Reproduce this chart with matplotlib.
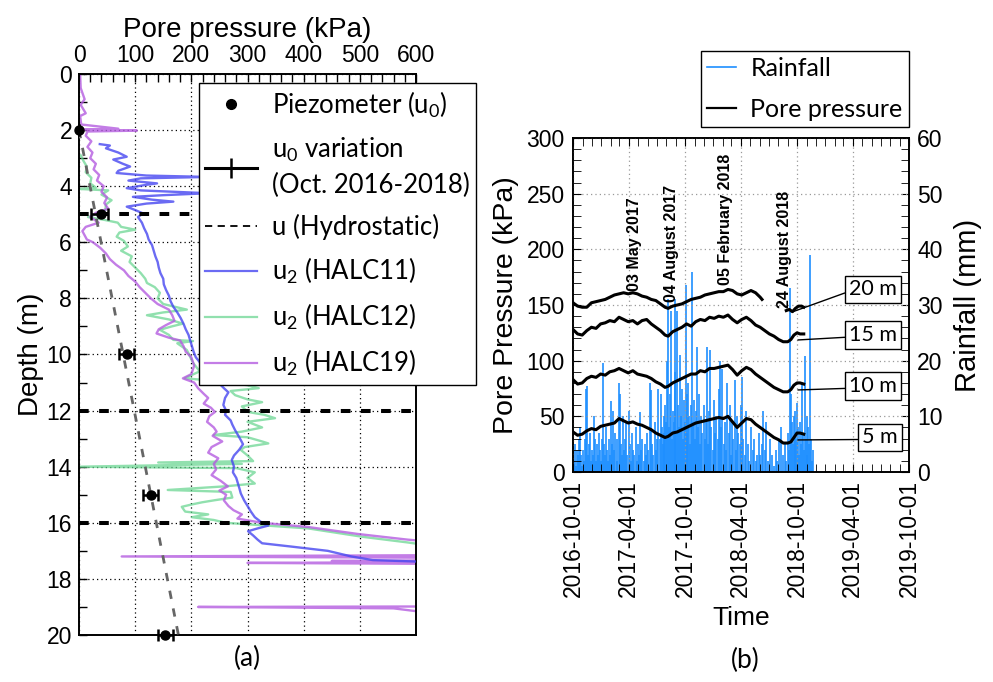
"""Pore pressure profiles (a) and monitored pore pressure vs rainfall (b)."""

import matplotlib

matplotlib.use("Agg")
import matplotlib.pyplot as plt
import matplotlib.dates as mdates
import numpy as np
from matplotlib.lines import Line2D
from matplotlib.ticker import MultipleLocator

# ---------------- (a) CPTu / piezometer profiles ----------------
# u2 readings in kPa against depth in m; 700 means off the 600 kPa scale
HALC11_DEPTH = [2.5, 2.55, 2.65, 2.8, 2.95, 3.05, 3.2, 3.3, 3.45, 3.53, 3.62, 3.67, 3.72, 3.8, 3.9,
                3.95, 4.07, 4.15, 4.25, 4.32, 4.38, 4.48, 4.55, 4.62, 4.73, 4.85, 4.97, 5.1, 5.3, 5.5,
                5.7, 5.9, 6.1, 6.3, 6.5, 6.7, 6.9, 7.1, 7.3, 7.5, 7.7, 7.9, 8.1, 8.3, 8.5,
                8.7, 8.9, 9.1, 9.3, 9.5, 9.7, 9.9, 10.1, 10.4, 10.7, 11.0, 11.2, 11.35, 11.55, 11.8,
                12.0, 12.15, 12.35, 12.5, 12.7, 12.87, 13.05, 13.2, 13.4, 13.6, 13.76, 14.0, 14.2, 14.4, 14.6,
                14.8, 14.95, 15.2, 15.43, 15.6, 15.8, 16.0, 16.1, 16.2, 16.3, 16.45, 16.6, 16.73, 16.85, 17.0,
                17.2, 17.33, 17.38, 17.45, 20.0]
HALC11_U2 = [37, 55, 48, 70, 85, 61, 78, 91, 70, 67, 120, 230, 110, 88, 139,
             120, 85, 110, 230, 150, 96, 130, 168, 120, 85, 100, 114, 105, 112, 116,
             121, 124, 130, 133, 136, 140, 142, 145, 150, 151, 155, 160, 163, 168, 175,
             181, 186, 190, 195, 198, 201, 204, 208, 220, 240, 248, 258, 266, 260, 257,
             262, 260, 270, 273, 278, 283, 288, 292, 285, 276, 272, 276, 274, 280, 283,
             286, 288, 294, 301, 306, 313, 326, 337, 318, 301, 310, 318, 326, 379, 443,
             485, 523, 600, 700, 700]

HALC12_DEPTH = [2.9, 3.1, 3.3, 3.5, 3.7, 3.9, 4.05, 4.1, 4.15, 4.3, 4.5, 4.65, 4.85, 5.0, 5.1,
                5.2, 5.3, 5.45, 5.55, 5.65, 5.8, 5.95, 6.15, 6.3, 6.5, 6.7, 6.9, 7.1, 7.3, 7.45,
                7.6, 7.8, 8.0, 8.2, 8.4, 8.5, 8.6, 8.75, 8.9, 9.0, 9.12, 9.3, 9.48, 9.52, 9.6,
                9.84, 10.0, 10.3, 10.6, 10.85, 10.95, 11.1, 11.2, 11.3, 11.45, 11.6, 11.7, 11.85, 12.05, 12.15,
                12.27, 12.4, 12.6, 12.75, 12.87, 12.95, 13.1, 13.17, 13.3, 13.4, 13.6, 13.8, 13.85, 13.9, 14.0,
                14.05, 14.2, 14.4, 14.6, 14.7, 14.83, 14.9, 15.1, 15.2, 15.27, 15.35, 15.43, 15.6, 15.7, 15.8,
                15.9, 16.0, 16.2, 16.5, 16.7, 16.8, 16.85, 20.0]
HALC12_U2 = [3, 8, 14, 12, 22, 20, 30, 3, 52, 40, 58, 48, 47, 30, 16,
             45, 69, 75, 100, 72, 67, 80, 87, 75, 94, 90, 100, 110, 118, 121,
             135, 144, 140, 150, 192, 150, 121, 160, 185, 165, 144, 160, 168, 203, 175,
             192, 196, 203, 215, 188, 250, 301, 320, 270, 278, 300, 326, 290, 301, 330,
             349, 300, 326, 290, 240, 300, 326, 337, 295, 288, 300, 310, 141, 290, 0,
             280, 313, 300, 313, 260, 158, 270, 273, 240, 219, 200, 183, 189, 230, 201,
             240, 261, 408, 505, 585, 620, 700, 700]

HALC19_DEPTH = [0.0, 0.5, 0.9, 1.1, 1.4, 1.5, 1.8, 1.95, 1.98, 2.02, 2.05, 2.2, 2.4, 2.6, 2.8,
                3.0, 3.2, 3.4, 3.6, 3.8, 4.0, 4.2, 4.4, 4.6, 4.8, 4.95, 5.1, 5.3, 5.45, 5.6,
                5.75, 5.9, 6.0, 6.2, 6.4, 6.6, 6.8, 7.0, 7.2, 7.4, 7.6, 7.8, 8.0, 8.2, 8.4,
                8.6, 8.8, 8.95, 9.1, 9.25, 9.4, 9.5, 9.7, 9.9, 10.1, 10.4, 10.7, 10.85, 11.0, 11.2,
                11.4, 11.55, 11.75, 11.9, 12.05, 12.2, 12.4, 12.6, 12.75, 12.9, 13.1, 13.3, 13.5, 13.7, 13.9,
                14.1, 14.3, 14.5, 14.7, 14.85, 15.0, 15.2, 15.4, 15.55, 15.7, 15.85, 16.0, 16.15, 16.4, 16.6,
                16.8, 17.15, 17.2, 17.25, 17.33, 17.36, 17.4, 17.43, 17.47, 18.98, 19.0, 19.05, 19.15, 19.25, 20.0]
HALC19_U2 = [2, 3, 10, 3, 12, 2, 4, 70, 5, 103, 15, 12, 22, 15, 24,
             20, 30, 26, 36, 32, 44, 40, 50, 45, 52, 30, 20, 35, 12, 6,
             10, 14, 25, 38, 48, 55, 66, 80, 88, 100, 108, 118, 128, 140, 160,
             166, 170, 155, 142, 138, 160, 180, 186, 190, 200, 205, 200, 185, 205, 212,
             222, 230, 222, 235, 242, 232, 228, 240, 245, 238, 255, 236, 230, 248, 240,
             244, 236, 252, 265, 250, 262, 258, 266, 275, 290, 282, 326, 408, 497, 585,
             700, 700, 76, 700, 700, 450, 700, 300, 700, 700, 212, 560, 600, 700, 700]

PIEZO_DEPTH = [2, 5, 10, 15, 20]
PIEZO_U0 = [0, 40, 85, 129, 154]
PIEZO_ERR_LO = [0, 19, 14, 15, 13]
PIEZO_ERR_HI = [0, 12, 13, 12, 13]
HYDRO_DEPTH = [2, 20]
HYDRO_U = [0, 177]
LAYER_DEPTHS = [5, 12, 16]

# ---------------- (b) monitoring: days after 2016-10-01 ----------------
PP_DAY = [0, 15, 30, 45, 60, 75, 90, 105, 120, 135, 150, 165, 180, 195, 210, 225, 240, 255,
          270, 285, 300, 310, 325, 340, 355, 370, 385, 400, 415, 430, 445, 460, 475, 490, 505, 520,
          535, 550, 565, 580, 595, 610, 625, 640, 655, 670, 685, 700, 710, 720, 730, 740, 752]
PP_5M = [36, 33, 34, 37, 39, 38, 41, 42, 43, 44, 48, 46, 44, 45, 43, 42, 40, 38,
         35, 33, 31, 32, 35, 36, 38, 40, 42, 44, 45, 46, 47, 48, 49, 48, 50, 45,
         40, 44, 48, 47, 43, 40, 37, 34, 31, 29, 26, 26, 27, 31, 35, 35, 34]
PP_10M = [83, 79, 80, 84, 86, 85, 88, 87, 90, 91, 93, 91, 89, 91, 88, 87, 86, 84,
          81, 79, 76, 77, 80, 82, 84, 86, 88, 88, 91, 90, 93, 93, 94, 95, 96, 92,
          87, 91, 94, 92, 88, 85, 82, 79, 76, 74, 72, 72, 74, 78, 80, 80, 79]
PP_15M = [128, 124, 123, 127, 130, 129, 133, 134, 136, 135, 139, 137, 135, 136, 133, 136, 137, 133,
          130, 127, 123, 122, 126, 128, 130, 133, 131, 135, 137, 136, 139, 138, 140, 139, 141, 137,
          134, 137, 139, 136, 132, 130, 127, 124, 122, 119, 117, 117, 119, 123, 125, 124, 124]
PP20_DAY = [0, 15, 30, 45, 60, 75, 90, 105, 120, 135, 150, 165, 180, 195, 210, 225, 240, 255,
            270, 285, 300, 310, 325, 340, 355, 370, 385, 400, 415, 430, 445, 460, 475, 490, 505, 520,
            535, 550, 565, 580, 595, 610, 616, 650, 695, 705, 715, 725, 735, 745, 752]
PP_20M = [152, 149, 148, 148, 152, 153, 154, 155, 157, 159, 160, 161, 160, 161, 160, 158, 157, 155,
          154, 151, 148, 147, 149, 150, 151, 153, 155, 156, 157, 159, 160, 161, 162, 162, 164, 163,
          160, 159, 161, 163, 161, 157, 155, np.nan, 145, 146, 144, 147, 149, 149, 148]

RAIN_DAY = [3, 6, 9, 12, 15, 18, 21, 23, 26, 29,
            32, 35, 38, 42, 45, 48, 51, 55, 58, 61,
            65, 68, 71, 75, 78, 82, 85, 88, 92, 95,
            98, 101, 105, 108, 112, 115, 118, 122, 125, 128,
            131, 135, 138, 142, 145, 149, 153, 156, 160, 163,
            166, 170, 174, 177, 181, 185, 188, 192, 196, 200,
            204, 207, 211, 215, 218, 222, 226, 230, 234, 238,
            242, 246, 250, 254, 258, 262, 266, 270, 274, 278,
            282, 286, 289, 292, 295, 298, 301, 304, 307, 310,
            313, 316, 319, 322, 325, 328, 331, 334, 337, 340,
            343, 346, 349, 352, 355, 358, 361, 364, 367, 370,
            373, 376, 379, 382, 385, 388, 391, 394, 397, 400,
            403, 406, 410, 414, 418, 422, 426, 430, 434, 437,
            440, 444, 447, 451, 455, 459, 463, 467, 471, 475,
            479, 483, 487, 491, 495, 499, 503, 507, 511, 515,
            519, 523, 527, 531, 535, 539, 543, 547, 551, 555,
            560, 565, 570, 575, 580, 585, 590, 595, 600, 605,
            610, 615, 620, 625, 630, 636, 642, 648, 654, 660,
            666, 672, 678, 684, 690, 695, 700, 704, 707, 710,
            713, 716, 719, 722, 725, 728, 731, 734, 737, 740,
            743, 746, 749, 752, 755, 758, 761, 764, 767, 770,
            772, 775, 778, 781]
RAIN_MM = [2, 5, 1, 4, 3, 6, 2, 8, 3, 1,
           4, 2, 6, 15, 15.5, 3, 5, 7, 2, 4,
           3, 10, 6, 2, 5, 3, 7, 4, 2, 6,
           19.6, 5, 3, 8, 4, 2, 6, 3, 12.8, 5,
           11, 4, 7, 2, 6, 16, 14, 5, 3, 10,
           4, 6, 8.8, 3, 11, 5, 2, 7, 4, 3,
           8, 2, 5, 3, 10.8, 4, 6, 2, 5, 3,
           7, 4, 16, 14.8, 5, 3, 9, 4, 6, 15,
           6, 14, 8, 5, 10, 7, 12, 9, 20, 31,
           8, 14, 29, 6, 11, 9, 18, 31, 7, 29,
           12, 8, 21, 10, 15, 6, 13, 9, 33.6, 14,
           7, 16, 10, 5, 12, 36, 9, 13, 6, 11,
           22.5, 8, 14, 5, 10, 7, 12, 6, 9, 22.5,
           5, 11, 22, 8, 4, 13, 7, 10, 6, 15,
           20, 8, 18.5, 5, 9, 4, 16, 7, 12, 3,
           9, 6, 16.5, 4, 10, 7, 5, 12, 17, 6,
           3, 11, 5, 2, 8, 4, 6, 2, 3, 7,
           3, 5, 11, 4, 9, 2, 6, 3, 1, 4,
           2, 6, 8, 3, 5, 2, 7, 4, 33, 14,
           9, 5, 10, 7, 11, 6, 12.4, 8, 3, 9,
           5, 16, 7, 4, 20.8, 6, 10, 3, 8, 5,
           39, 6, 2, 4]

EVENT_TEXT = ["03 May 2017", "04 August 2017", "05 February 2018", "24 August 2018"]
EVENT_DAY = [199, 322, 496, 688]
EVENT_KPA = [163, 153, 168, 147]

DEPTH_TEXT = ["20 m", "15 m", "10 m", "5 m"]
DEPTH_END_DAY = [717, 733, 733, 733]
DEPTH_END_KPA = [144, 118.6, 73.7, 28.8]
DEPTH_BOX_DAY = [978, 978, 978, 1000]
DEPTH_BOX_KPA = [164, 123, 77, 31]

START = np.datetime64("2016-10-01")
SANS = "Liberation Sans"
CAL = "Lato"
BLUE, GREEN, PURPLE = "#4646f0", "#62d48c", "#b45ce0"


def to_dates(days):
    return START + np.asarray(days).astype("timedelta64[D]")


def draw_profiles(ax):
    ax.plot(HALC11_U2, HALC11_DEPTH, color=BLUE, lw=1.7, alpha=0.8, zorder=3)
    ax.plot(HALC12_U2, HALC12_DEPTH, color=GREEN, lw=1.7, alpha=0.7, zorder=2)
    ax.plot(HALC19_U2, HALC19_DEPTH, color=PURPLE, lw=1.7, alpha=0.8, zorder=2)
    ax.plot(HYDRO_U, HYDRO_DEPTH, color="#666666", lw=2.0, ls=(0, (3.0, 3.5)), zorder=4)
    for d in LAYER_DEPTHS:
        ax.axhline(d, color="k", lw=2.9, ls=(0, (2.4, 2.6)), zorder=5)
    ax.errorbar(PIEZO_U0, PIEZO_DEPTH, xerr=[PIEZO_ERR_LO, PIEZO_ERR_HI], fmt="o", color="k",
                ms=6.5, elinewidth=1.8, capsize=4, capthick=1.8, zorder=6, clip_on=False)

    ax.set_xlim(0, 600)
    ax.set_ylim(20, 0)
    ax.xaxis.tick_top()
    ax.xaxis.set_label_position("top")
    ax.xaxis.set_major_locator(MultipleLocator(100))
    ax.xaxis.set_minor_locator(MultipleLocator(20))
    ax.yaxis.set_major_locator(MultipleLocator(2))
    ax.yaxis.set_minor_locator(MultipleLocator(1))
    ax.tick_params(which="both", direction="in", top=True, bottom=False, left=True, right=False,
                   length=6, width=1.0, labelsize=16.5, pad=5)
    ax.grid(True, which="major", color="k", lw=0.9, ls=(0, (1, 2.5)))
    for sp in ax.spines.values():
        sp.set_linewidth(1.4)
    ax.set_xlabel("Pore pressure (kPa)", fontsize=20, labelpad=5)
    ax.set_ylabel("Depth (m)", fontsize=20, labelpad=2)

    handles = [
        Line2D([], [], color="k", marker="o", ls="none", ms=7),
        Line2D([], [], color="k", marker="|", ms=15, mew=1.8, lw=2.2),
        Line2D([], [], color="k", lw=1.3, ls=(0, (4, 3))),
        Line2D([], [], color=BLUE, lw=1.6, alpha=0.8),
        Line2D([], [], color=GREEN, lw=1.6, alpha=0.7),
        Line2D([], [], color=PURPLE, lw=1.6, alpha=0.8),
    ]
    labels = ["Piezometer (u$_0$)", "u$_0$ variation\n(Oct. 2016-2018)", "u (Hydrostatic)",
              "u$_2$ (HALC11)", "u$_2$ (HALC12)", "u$_2$ (HALC19)"]
    leg = ax.legend(handles, labels, loc="upper left", bbox_to_anchor=(0.356, 0.984),
                    prop={"family": CAL, "size": 18.5}, frameon=True, fancybox=False,
                    edgecolor="k", framealpha=1, borderpad=0.25, labelspacing=0.62,
                    handlelength=2.0, handletextpad=0.6, borderaxespad=0)
    leg.get_frame().set_linewidth(1.0)
    leg.get_texts()[1].set_linespacing(1.45)
    leg.set_zorder(10)


def draw_monitoring(ax, axr):
    axr.vlines(to_dates(RAIN_DAY), 0, RAIN_MM, color="#1e8fff", lw=1.2)
    axr.set_ylim(0, 60)
    axr.yaxis.set_major_locator(MultipleLocator(10))
    axr.yaxis.set_minor_locator(MultipleLocator(2))
    axr.tick_params(which="both", direction="in", length=6, labelsize=16.5, pad=6)
    axr.set_ylabel("Rainfall (mm)", fontsize=21, labelpad=8)

    ax.set_zorder(axr.get_zorder() + 1)
    ax.patch.set_visible(False)
    for vals in (PP_5M, PP_10M, PP_15M):
        ax.plot(to_dates(PP_DAY), vals, color="k", lw=2.2)
    ax.plot(to_dates(PP20_DAY), PP_20M, color="k", lw=2.2)

    ax.set_xlim(np.datetime64("2016-10-01"), np.datetime64("2019-10-01"))
    ax.set_ylim(0, 300)
    ax.xaxis.set_major_locator(mdates.MonthLocator(bymonth=[4, 10], bymonthday=1))
    ax.xaxis.set_minor_locator(mdates.MonthLocator())
    ax.xaxis.set_major_formatter(mdates.DateFormatter("%Y-%m-%d"))
    ax.yaxis.set_major_locator(MultipleLocator(50))
    ax.yaxis.set_minor_locator(MultipleLocator(10))
    ax.tick_params(which="both", direction="in", top=True, right=False, length=6, labelsize=16.5, pad=6)
    ax.tick_params(axis="x", labelrotation=90)
    ax.grid(True, which="major", color="#999999", lw=0.9, ls=(0, (1, 2.5)))
    ax.set_ylabel("Pore Pressure (kPa)", fontsize=20.5, labelpad=5)
    ax.set_xlabel("Time", fontsize=19, labelpad=6)

    for text, day, kpa in zip(EVENT_TEXT, EVENT_DAY, EVENT_KPA):
        ax.text(to_dates([day])[0], kpa, text, rotation=90, ha="center", va="bottom",
                fontsize=11.5, fontweight="bold", family=SANS)

    for text, d0, k0, d1, k1 in zip(DEPTH_TEXT, DEPTH_END_DAY, DEPTH_END_KPA, DEPTH_BOX_DAY, DEPTH_BOX_KPA):
        ax.annotate(text, xy=(to_dates([d0])[0], k0), xytext=(to_dates([d1])[0], k1),
                    ha="center", va="center", fontsize=15.5, family=CAL,
                    bbox=dict(boxstyle="square,pad=0.18", fc="white", ec="k", lw=1.0),
                    arrowprops=dict(arrowstyle="-", color="k", lw=1.0, shrinkA=0, shrinkB=0,
                                    relpos=(0, 0.4)))

    handles = [Line2D([], [], color="#1e8fff", lw=1.2), Line2D([], [], color="k", lw=1.6)]
    leg = ax.legend(handles, ["Rainfall", "Pore pressure"], loc="lower right",
                    bbox_to_anchor=(1.0, 1.033), prop={"family": CAL, "size": 18},
                    frameon=True, fancybox=False, edgecolor="k", framealpha=1,
                    borderpad=0.25, labelspacing=0.7, handlelength=1.15, handletextpad=0.6,
                    borderaxespad=0)
    leg.get_frame().set_linewidth(1.0)


def main():
    plt.rcParams.update({
        "font.family": SANS,
        "mathtext.fontset": "custom",
        "mathtext.rm": CAL,
        "mathtext.it": CAL,
        "axes.linewidth": 1.2,
    })
    fig = plt.figure(figsize=(9.93, 6.82), dpi=100)
    ax_a = fig.add_axes([79 / 993, 47 / 682, 337 / 993, 561 / 682])
    ax_b = fig.add_axes([573 / 993, 210 / 682, 336 / 993, 334 / 682])
    ax_r = ax_b.twinx()

    draw_profiles(ax_a)
    draw_monitoring(ax_b, ax_r)

    fig.text(247 / 993, 1 - 658 / 682, "(a)", ha="center", va="center", fontsize=19, family=CAL)
    fig.text(745 / 993, 1 - 660 / 682, "(b)", ha="center", va="center", fontsize=19, family=CAL)
    fig.savefig("out.png", dpi=100)
    plt.close(fig)


if __name__ == "__main__":
    main()
